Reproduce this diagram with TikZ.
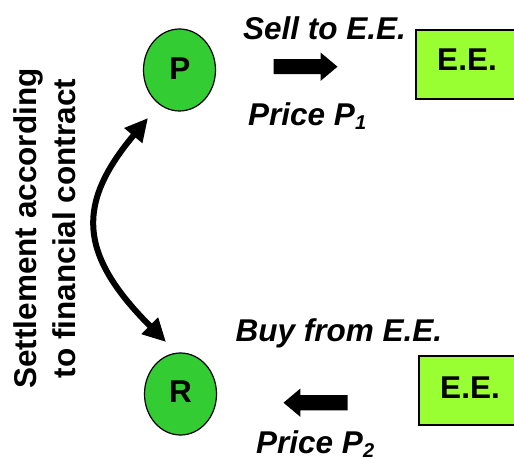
\documentclass[tikz,border=0pt]{standalone}
\usepackage{fontspec}
\setmainfont{Liberation Sans}
\usetikzlibrary{arrows.meta,shapes.geometric,shapes.arrows}
\definecolor{nodegreen}{HTML}{33CC33}
\definecolor{boxgreen}{HTML}{99FF33}
\newcommand{\bigtxt}{\fontsize{31.5}{38.3}\selectfont\bfseries}
\newcommand{\subdig}[1]{\raisebox{-4pt}{\fontsize{20}{20}\selectfont #1}}
\begin{document}
\begin{tikzpicture}[x=1pt,y=1pt,
  agent/.style={ellipse,draw=black,line width=1.2pt,fill=nodegreen,minimum width=72pt,minimum height=82pt,inner sep=0pt},
  eebox/.style={rectangle,draw=black,line width=1.5pt,fill=boxgreen,minimum width=100pt,minimum height=69pt,inner sep=0pt},
  lbl/.style={font=\bigtxt\itshape,inner sep=0pt},
  blockarrow/.style={single arrow,fill=black,draw=none,minimum height=64pt,inner xsep=0pt,inner ysep=7.35pt,single arrow head extend=6.6pt,single arrow tip angle=80},
  settle/.style={line width=6pt,{Triangle[length=23pt,width=22pt]}-{Triangle[length=23pt,width=22pt]}}
]
\useasboundingbox (0,0) rectangle (514,458);
% agents
\node[agent] (P) at (179.5,388) {};
\node[font=\bigtxt,anchor=base,inner sep=0pt] (Pl) at (180,378) {P};
\node[agent] (R) at (180.5,64) {};
\node[font=\bigtxt,anchor=base,inner sep=0pt] (Rl) at (180.5,55.3) {R};
% E.E. boxes
\node[eebox] (EE1) at (466,393.5) {};
\node[font=\bigtxt,anchor=base,inner sep=0pt] (EE1l) at (467,387) {E.E.};
\node[eebox] (EE2) at (469,67.5) {};
\node[font=\bigtxt,anchor=base,inner sep=0pt] (EE2l) at (470,59.7) {E.E.};
% block arrows
\node[blockarrow] (A1) at (301,391.3) {};
\node[blockarrow,shape border rotate=180] (A2) at (320,55.3) {};
% labels
\node[lbl,anchor=base] (sell) at (324.5,418) {Sell to E.E.};
\node[lbl,anchor=base west] (p1) at (248,332) {Price P\subdig{1}};
\node[lbl,anchor=base] (buy) at (339,116.3) {Buy from E.E.};
\node[lbl,anchor=base west] (p2) at (256,5) {Price P\subdig{2}};
% settlement text
\node[font=\bigtxt,rotate=90,anchor=base,inner sep=0pt] (s1) at (36.7,229.5) {Settlement according};
\node[font=\bigtxt,rotate=90,anchor=base,inner sep=0pt] (s2) at (75,229.5) {to financial contract};
% settlement arrow
\coordinate (pa) at (148,340);
\coordinate (ra) at (166,116);
\draw[settle] (pa) .. controls (77,255) and (77,205) .. (ra);
\end{tikzpicture}
\end{document}
